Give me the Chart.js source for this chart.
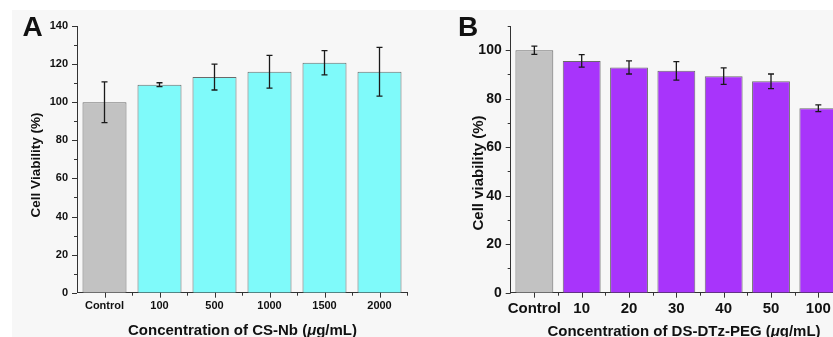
<!DOCTYPE html>
<html>
<head>
<meta charset="utf-8">
<script src="https://cdn.jsdelivr.net/npm/chart.js@4/dist/chart.umd.min.js"></script>
<style>
  html, body { margin:0; padding:0; background:#ffffff; }
  body { width:833px; height:337px; overflow:hidden; position:relative; font-family:"Liberation Sans", Arial, sans-serif; }
  #bg { position:absolute; left:12px; top:10px; width:821px; height:327px; background:#f7f7f7; }
  .cv { position:absolute; top:0; height:337px; }
  .lbl { position:absolute; font-weight:bold; color:#111; white-space:nowrap; line-height:1; }
  .ttl { position:absolute; font-weight:bold; color:#111; white-space:nowrap; line-height:1; transform:translate(-50%,-50%); }
  .rot { transform:translate(-50%,-50%) rotate(-90deg); }
</style>
</head>
<body>
<div id="bg"></div>
<div class="cv" style="left:0px;width:420px;"><canvas id="cA" width="420" height="337"></canvas></div>
<div class="cv" style="left:420px;width:430px;"><canvas id="cB" width="430" height="337"></canvas></div>

<div class="lbl" style="left:22.5px;top:13.3px;font-size:28px;">A</div>
<div class="lbl" style="left:458px;top:13px;font-size:28px;">B</div>
<div class="ttl rot" style="left:36px;top:165px;font-size:13.5px;">Cell Viability (%)</div>
<div class="ttl rot" style="left:477px;top:173px;font-size:15px;">Cell viability (%)</div>
<div class="ttl" style="left:242.5px;top:328.5px;font-size:15px;">Concentration of CS-Nb (<i>μ</i>g/mL)</div>
<div class="ttl" style="left:684px;top:330px;font-size:15px;">Concentration of DS-DTz-PEG (<i>μ</i>g/mL)</div>

<script>
// ---- Data ----
const catsA = ['Control', '100', '500', '1000', '1500', '2000'];
const valsA = [100, 109.2, 113.2, 116.0, 120.7, 116.0];
const errA  = [10.7, 1.0, 6.8, 8.6, 6.4, 12.8];
const yMaxA = 140;

const catsB = ['Control', '10', '20', '30', '40', '50', '100'];
const valsB = [100, 95.6, 92.9, 91.5, 89.3, 87.2, 76.1];
const errB  = [1.7, 2.6, 2.7, 3.8, 3.4, 3.0, 1.4];
const yMaxB = 110;

const FONT = "'Liberation Sans', Arial, sans-serif";
const GRAY = '#c2c2c2', CYAN = '#7ffafa', PURPLE = '#a834fb';
const EDGE = '#6a6a6a', AXIS = '#333333';

const errorBars = {
  id: 'errorBars',
  afterDatasetsDraw(chart, args, opts) {
    const ctx = chart.ctx, y = chart.scales.y;
    const meta = chart.getDatasetMeta(0);
    const vals = chart.data.datasets[0].data;
    const errs = opts.errors;
    ctx.save();
    ctx.strokeStyle = '#1a1a1a';
    ctx.lineWidth = 1.3;
    meta.data.forEach((bar, i) => {
      const yt = y.getPixelForValue(vals[i] + errs[i]);
      const yb = y.getPixelForValue(vals[i] - errs[i]);
      const x = bar.x, c = opts.cap;
      ctx.beginPath();
      ctx.moveTo(x, yt); ctx.lineTo(x, yb);
      ctx.moveTo(x - c, yt); ctx.lineTo(x + c, yt);
      ctx.moveTo(x - c, yb); ctx.lineTo(x + c, yb);
      ctx.stroke();
    });
    ctx.restore();
  }
};

const tickMarks = {
  id: 'tickMarks',
  afterDraw(chart, args, opts) {
    const ctx = chart.ctx, xs = chart.scales.x, ys = chart.scales.y;
    ctx.save();
    ctx.strokeStyle = AXIS;
    ctx.lineWidth = 1;
    ctx.beginPath();
    for (let v = 0; v <= opts.yMax; v += 10) {
      const p = Math.round(ys.getPixelForValue(v)) + 0.5;
      const len = (v % 20 === 0) ? 5 : 3;
      ctx.moveTo(ys.right, p); ctx.lineTo(ys.right - len, p);
    }
    const n = chart.data.labels.length;
    for (let i = 0; i < n; i++) {
      const p = Math.round(xs.getPixelForTick(i)) + 0.5;
      ctx.moveTo(p, xs.top); ctx.lineTo(p, xs.top + 5);
    }
    for (let i = 1; i <= n; i++) {
      const next = i < n ? xs.getPixelForTick(i) : xs.right + (xs.right - xs.getPixelForTick(n - 1));
      const p = Math.round((xs.getPixelForTick(i - 1) + next) / 2) + 0.5;
      ctx.moveTo(p, xs.top); ctx.lineTo(p, xs.top + 3);
    }
    ctx.stroke();
    ctx.restore();
  }
};

function makeChart(id, cats, vals, errs, colors, yMax, cfg) {
  return new Chart(document.getElementById(id), {
    type: 'bar',
    data: {
      labels: cats,
      datasets: [{
        data: vals,
        backgroundColor: colors,
        borderColor: EDGE,
        borderWidth: 1,
        barPercentage: 0.8,
        categoryPercentage: 1.0
      }]
    },
    options: {
      responsive: false,
      animation: false,
      events: [],
      layout: { padding: { left: 0, top: 26, right: cfg.padRight, bottom: 0 } },
      plugins: {
        legend: { display: false },
        tooltip: { enabled: false },
        errorBars: { errors: errs, cap: 3 },
        tickMarks: { yMax: yMax }
      },
      scales: {
        x: {
          grid: { display: false, drawTicks: false },
          border: { display: true, color: AXIS, width: 1 },
          ticks: { color: '#111', font: { family: FONT, size: cfg.xFont, weight: 'bold' }, padding: 7, maxRotation: 0, autoSkip: false },
          afterFit: (s) => { s.height = 44.3; }
        },
        y: {
          min: 0, max: yMax,
          grid: { display: false, drawTicks: false },
          border: { display: true, color: AXIS, width: 1 },
          ticks: {
            stepSize: 20,
            color: '#111',
            font: { family: FONT, size: cfg.yFont, weight: 'bold' },
            padding: 9,
            callback: (v) => (v % 20 === 0 ? v : '')
          },
          afterFit: (s) => { s.width = cfg.yWidth; }
        }
      }
    },
    plugins: [errorBars, tickMarks]
  });
}

const colorsA = catsA.map((c, i) => i === 0 ? GRAY : CYAN);
const colorsB = catsB.map((c, i) => i === 0 ? GRAY : PURPLE);

makeChart('cA', catsA, valsA, errA, colorsA, yMaxA, { padRight: 13, yWidth: 77, xFont: 11, yFont: 11 });
makeChart('cB', catsB, valsB, errB, colorsB, yMaxB, { padRight: 8, yWidth: 90.7, xFont: 15, yFont: 14 });
</script>
</body>
</html>
